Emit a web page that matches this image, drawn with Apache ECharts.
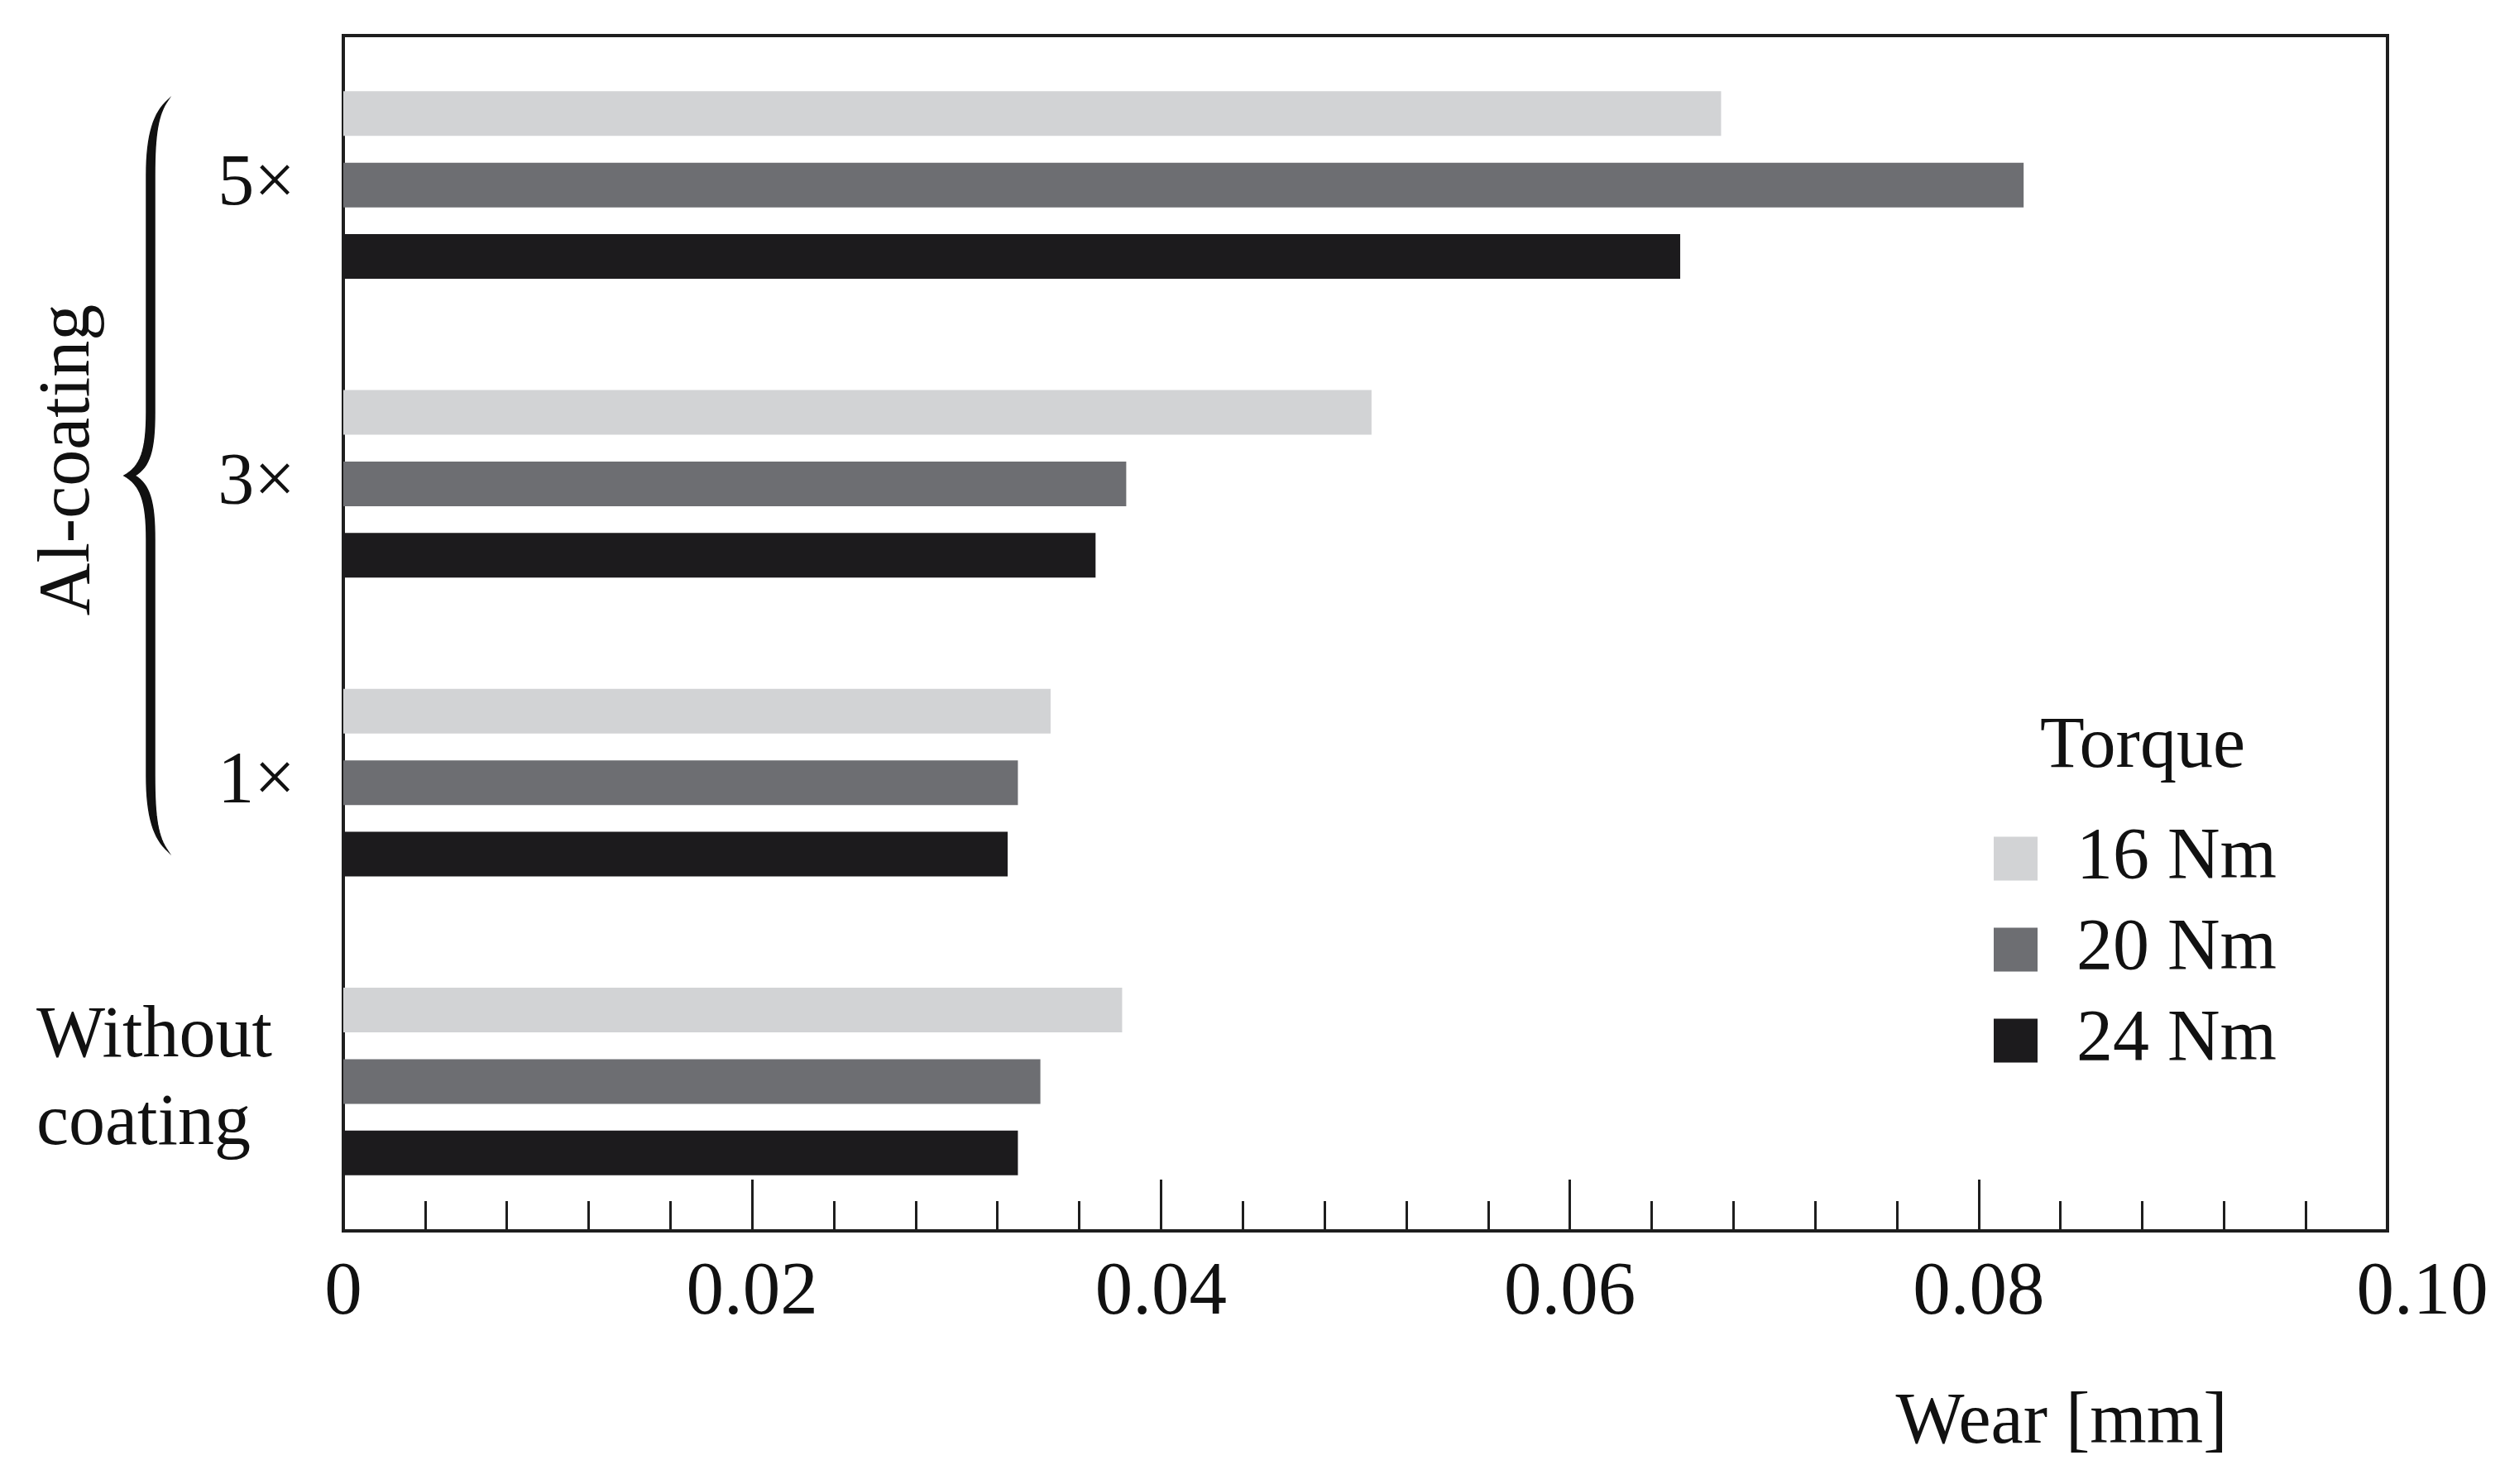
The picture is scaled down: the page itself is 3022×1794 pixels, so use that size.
<!DOCTYPE html>
<html><head><meta charset="utf-8">
<script src="https://cdn.jsdelivr.net/npm/echarts@6/dist/echarts.min.js"></script>
<style>html,body{margin:0;padding:0;background:#fff}#c{width:3022px;height:1794px}</style>
</head><body><div id="c"></div>
<script>
// ---- data ----
const categories = ['5×', '3×', '1×', 'Without coating'];
const seriesNames = ['16 Nm', '20 Nm', '24 Nm'];
const wear16 = [0.0674, 0.0503, 0.0346, 0.0381];
const wear20 = [0.0822, 0.0383, 0.0330, 0.0341];
const wear24 = [0.0654, 0.0368, 0.0325, 0.0330];
const xTickLabels = ['0', '0.02', '0.04', '0.06', '0.08', '0.10'];
const seriesColors = ['#d2d3d5', '#6d6e72', '#1c1b1d'];

const FONT = "'Liberation Serif', 'Times New Roman', serif";
const FS = 88;
const INK = '#1e1e1e';

const chart = echarts.init(document.getElementById('c'), null, {renderer: 'canvas', width: 3022, height: 1794});

const seriesData = [wear16, wear20, wear24];

// decorative curly brace outline (sampled cubic segments)
function cubic(p0, p1, p2, p3, n, out) {
  for (let k = 1; k <= n; k++) {
    const t = k / n, u = 1 - t;
    out.push([
      u*u*u*p0[0] + 3*u*u*t*p1[0] + 3*u*t*t*p2[0] + t*t*t*p3[0],
      u*u*u*p0[1] + 3*u*u*t*p1[1] + 3*u*t*t*p2[1] + t*t*t*p3[1]
    ]);
  }
}
const brace = [[203, 121]];
cubic([203,121],[186,136],[177,162],[177,212],16,brace);
brace.push([177,498]);
cubic([177,498],[177,545],[170,564],[150,575],16,brace);
cubic([150,575],[170,586],[177,606],[177,652],16,brace);
brace.push([177,938]);
cubic([177,938],[177,988],[186,1014],[203,1029],16,brace);
cubic([203,1029],[191,1012],[187,990],[187,938],16,brace);
brace.push([187,652]);
cubic([187,652],[187,606],[181,586],[163,575],16,brace);
cubic([163,575],[181,564],[187,545],[187,498],16,brace);
brace.push([187,212]);
cubic([187,212],[187,162],[191,138],[203,121],16,brace);

const option = {
  backgroundColor: '#ffffff',
  animation: false,
  grid: {
    left: 415, right: 136, top: 43, bottom: 306,
    show: true, borderColor: INK, borderWidth: 4, backgroundColor: 'transparent'
  },
  xAxis: {
    type: 'value', min: 0, max: 0.1, interval: 0.02,
    axisLine: {show: true, lineStyle: {color: INK, width: 4}},
    axisTick: {show: true, inside: true, length: 62, lineStyle: {color: INK, width: 3}},
    minorTick: {show: true, splitNumber: 5, length: 36, lineStyle: {color: INK, width: 3}},
    splitLine: {show: false},
    axisLabel: {
      margin: 31, color: '#111', fontFamily: FONT, fontSize: 91,
      formatter: function (v) {
        const i = Math.round(v / 0.02);
        if (i === xTickLabels.length - 1) return '{e|' + xTickLabels[i] + '}';
        return xTickLabels[i];
      },
      rich: {
        e: {fontFamily: FONT, fontSize: 91, color: '#111', padding: [0, 0, 0, 84]}
      }
    }
  },
  yAxis: {
    type: 'category', inverse: true, data: categories,
    axisLine: {show: true, lineStyle: {color: INK, width: 4}},
    axisTick: {show: false},
    splitLine: {show: false},
    axisLabel: {
      margin: 58, color: '#111', fontFamily: FONT, fontSize: FS, align: 'right',
      formatter: function (v) {
        if (v === 'Without coating') return '{wc|Without}\n{wc|coating}';
        return '{n|' + v + '}';
      },
      rich: {
        wc: {width: 313, align: 'left', lineHeight: 106, fontFamily: FONT, fontSize: FS, color: '#111'},
        n: {fontFamily: FONT, fontSize: FS, color: '#111', lineHeight: 100}
      }
    }
  },
  legend: {
    orient: 'vertical', left: 2405, top: 989,
    itemWidth: 53, itemHeight: 53, itemGap: 22,
    icon: 'rect',
    data: seriesNames,
    textStyle: {fontFamily: FONT, fontSize: FS, color: '#111', padding: [0, 0, 0, 42]}
  },
  series: seriesNames.map(function (name, i) {
    return {
      name: name, type: 'bar', data: seriesData[i],
      barWidth: 54, barGap: '60%',
      itemStyle: {color: seriesColors[i]}
    };
  }),
  graphic: [
    {type: 'text', x: 2590, y: 904, style: {text: 'Torque', font: FS + 'px ' + FONT, fill: '#111', textAlign: 'center', textVerticalAlign: 'middle'}},
    {type: 'text', x: 2492, y: 1721, style: {text: 'Wear [mm]', font: FS + 'px ' + FONT, fill: '#111', textAlign: 'center', textVerticalAlign: 'middle'}},
    {type: 'text', x: 84, y: 556, rotation: Math.PI / 2, style: {text: 'Al-coating', font: FS + 'px ' + FONT, fill: '#111', textAlign: 'center', textVerticalAlign: 'middle'}},
    {type: 'polygon', shape: {points: brace}, style: {fill: '#111', stroke: '#111', lineWidth: 1.5}}
  ]
};
chart.setOption(option);
</script>
</body></html>
